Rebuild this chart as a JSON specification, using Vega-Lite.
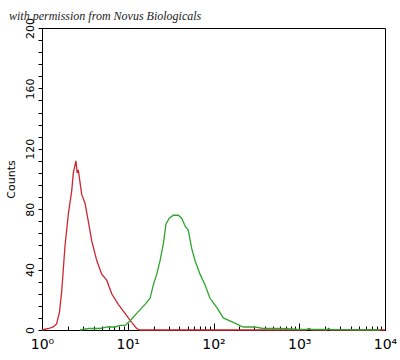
{
  "$schema": "https://vega.github.io/schema/vega-lite/v6.json",
  "width": 343,
  "height": 302,
  "autosize": {"type": "none"},
  "padding": {"left": 42, "top": 28, "right": 15, "bottom": 30},
  "background": "white",
  "config": {"view": {"stroke": "black", "strokeWidth": 1}},
  "title": {
    "text": "with permission from Novus Biologicals",
    "anchor": "start",
    "frame": "bounds",
    "font": "Liberation Serif",
    "fontStyle": "italic",
    "fontWeight": "normal",
    "fontSize": 12,
    "color": "#222",
    "offset": -5,
    "dx": 4
  },
  "data": {
    "values": [
      {"s": "red", "x": 1.0, "c": 0},
      {"s": "red", "x": 1.2, "c": 1},
      {"s": "red", "x": 1.35, "c": 2},
      {"s": "red", "x": 1.48, "c": 4},
      {"s": "red", "x": 1.6, "c": 12},
      {"s": "red", "x": 1.7, "c": 26},
      {"s": "red", "x": 1.85, "c": 55},
      {"s": "red", "x": 2.03, "c": 77},
      {"s": "red", "x": 2.22, "c": 92},
      {"s": "red", "x": 2.32, "c": 104},
      {"s": "red", "x": 2.4, "c": 108},
      {"s": "red", "x": 2.49, "c": 112},
      {"s": "red", "x": 2.57, "c": 104},
      {"s": "red", "x": 2.65, "c": 106},
      {"s": "red", "x": 2.9, "c": 90},
      {"s": "red", "x": 3.17, "c": 84},
      {"s": "red", "x": 3.47, "c": 72},
      {"s": "red", "x": 3.8, "c": 59},
      {"s": "red", "x": 4.35, "c": 46},
      {"s": "red", "x": 4.97, "c": 37},
      {"s": "red", "x": 5.68, "c": 33},
      {"s": "red", "x": 6.5, "c": 24},
      {"s": "red", "x": 7.76, "c": 17},
      {"s": "red", "x": 9.29, "c": 11},
      {"s": "red", "x": 11.1, "c": 5},
      {"s": "red", "x": 12.7, "c": 1},
      {"s": "red", "x": 13.9, "c": 0},
      {"s": "red", "x": 20, "c": 0},
      {"s": "red", "x": 1200, "c": 0},
      {"s": "red", "x": 1300, "c": 1},
      {"s": "red", "x": 1400, "c": 0},
      {"s": "red", "x": 2100, "c": 0},
      {"s": "red", "x": 2200, "c": 1},
      {"s": "red", "x": 2300, "c": 0},
      {"s": "red", "x": 10000, "c": 0},
      {"s": "green", "x": 2.77, "c": 0},
      {"s": "green", "x": 3.5, "c": 1},
      {"s": "green", "x": 4.75, "c": 1},
      {"s": "green", "x": 5.8, "c": 2},
      {"s": "green", "x": 7.1, "c": 2},
      {"s": "green", "x": 8.2, "c": 3},
      {"s": "green", "x": 9.29, "c": 3},
      {"s": "green", "x": 10.6, "c": 6},
      {"s": "green", "x": 12.7, "c": 11},
      {"s": "green", "x": 15.9, "c": 17},
      {"s": "green", "x": 18.2, "c": 21},
      {"s": "green", "x": 19.9, "c": 30},
      {"s": "green", "x": 21.8, "c": 37},
      {"s": "green", "x": 23.8, "c": 46},
      {"s": "green", "x": 26.0, "c": 57},
      {"s": "green", "x": 27.9, "c": 70},
      {"s": "green", "x": 30.5, "c": 74},
      {"s": "green", "x": 34.0, "c": 76},
      {"s": "green", "x": 38.9, "c": 76},
      {"s": "green", "x": 42.6, "c": 74},
      {"s": "green", "x": 46.5, "c": 69},
      {"s": "green", "x": 50.8, "c": 66},
      {"s": "green", "x": 55.7, "c": 54},
      {"s": "green", "x": 60.8, "c": 46},
      {"s": "green", "x": 69.6, "c": 37},
      {"s": "green", "x": 79.6, "c": 30},
      {"s": "green", "x": 91.0, "c": 21},
      {"s": "green", "x": 109, "c": 15},
      {"s": "green", "x": 130, "c": 8},
      {"s": "green", "x": 170, "c": 5},
      {"s": "green", "x": 223, "c": 2},
      {"s": "green", "x": 300, "c": 2},
      {"s": "green", "x": 378, "c": 1},
      {"s": "green", "x": 600, "c": 1},
      {"s": "green", "x": 933, "c": 0.5},
      {"s": "green", "x": 2985, "c": 0.3},
      {"s": "green", "x": 8700, "c": 0}
    ]
  },
  "mark": {"type": "line", "strokeWidth": 1.3},
  "encoding": {
    "x": {
      "field": "x",
      "type": "quantitative",
      "scale": {"type": "log", "domain": [1, 10000], "nice": false},
      "axis": {
        "title": null,
        "values": [1,2,3,4,5,6,7,8,9,10,20,30,40,50,60,70,80,90,100,200,300,400,500,600,700,800,900,1000,2000,3000,4000,5000,6000,7000,8000,9000,10000],
        "labelExpr": "datum.value == 1 ? '10⁰' : datum.value == 10 ? '10¹' : datum.value == 100 ? '10²' : datum.value == 1000 ? '10³' : datum.value == 10000 ? '10⁴' : ''",
        "tickSize": {"condition": {"test": "datum.value == 1 || datum.value == 10 || datum.value == 100 || datum.value == 1000 || datum.value == 10000", "value": -7}, "value": -4},
        "tickColor": "black",
        "domainColor": "black",
        "labelColor": "black",
        "labelFont": "DejaVu Sans",
        "labelFontSize": 14,
        "labelPadding": 14,
        "labelFlush": false,
        "labelOverlap": false,
        "grid": false
      }
    },
    "y": {
      "field": "c",
      "type": "quantitative",
      "scale": {"domain": [0, 200], "nice": false},
      "axis": {
        "title": "Counts",
        "titleFont": "DejaVu Sans",
        "titleFontWeight": "normal",
        "titleFontSize": 11,
        "titleColor": "black",
        "titlePadding": 8,
        "values": [0,8,16,24,32,40,48,56,64,72,80,88,96,104,112,120,128,136,144,152,160,168,176,184,192,200],
        "labelExpr": "datum.value % 40 == 0 ? datum.label : ''",
        "labelAngle": -90,
        "labelFont": "DejaVu Sans",
        "labelFontSize": 11,
        "labelColor": "black",
        "labelPadding": 3,
        "labelOverlap": false,
        "tickSize": 4,
        "tickColor": "black",
        "domainColor": "black",
        "grid": false
      }
    },
    "color": {
      "field": "s",
      "type": "nominal",
      "scale": {"domain": ["red", "green"], "range": ["#cc2630", "#2ea52e"]},
      "legend": null
    }
  }
}
